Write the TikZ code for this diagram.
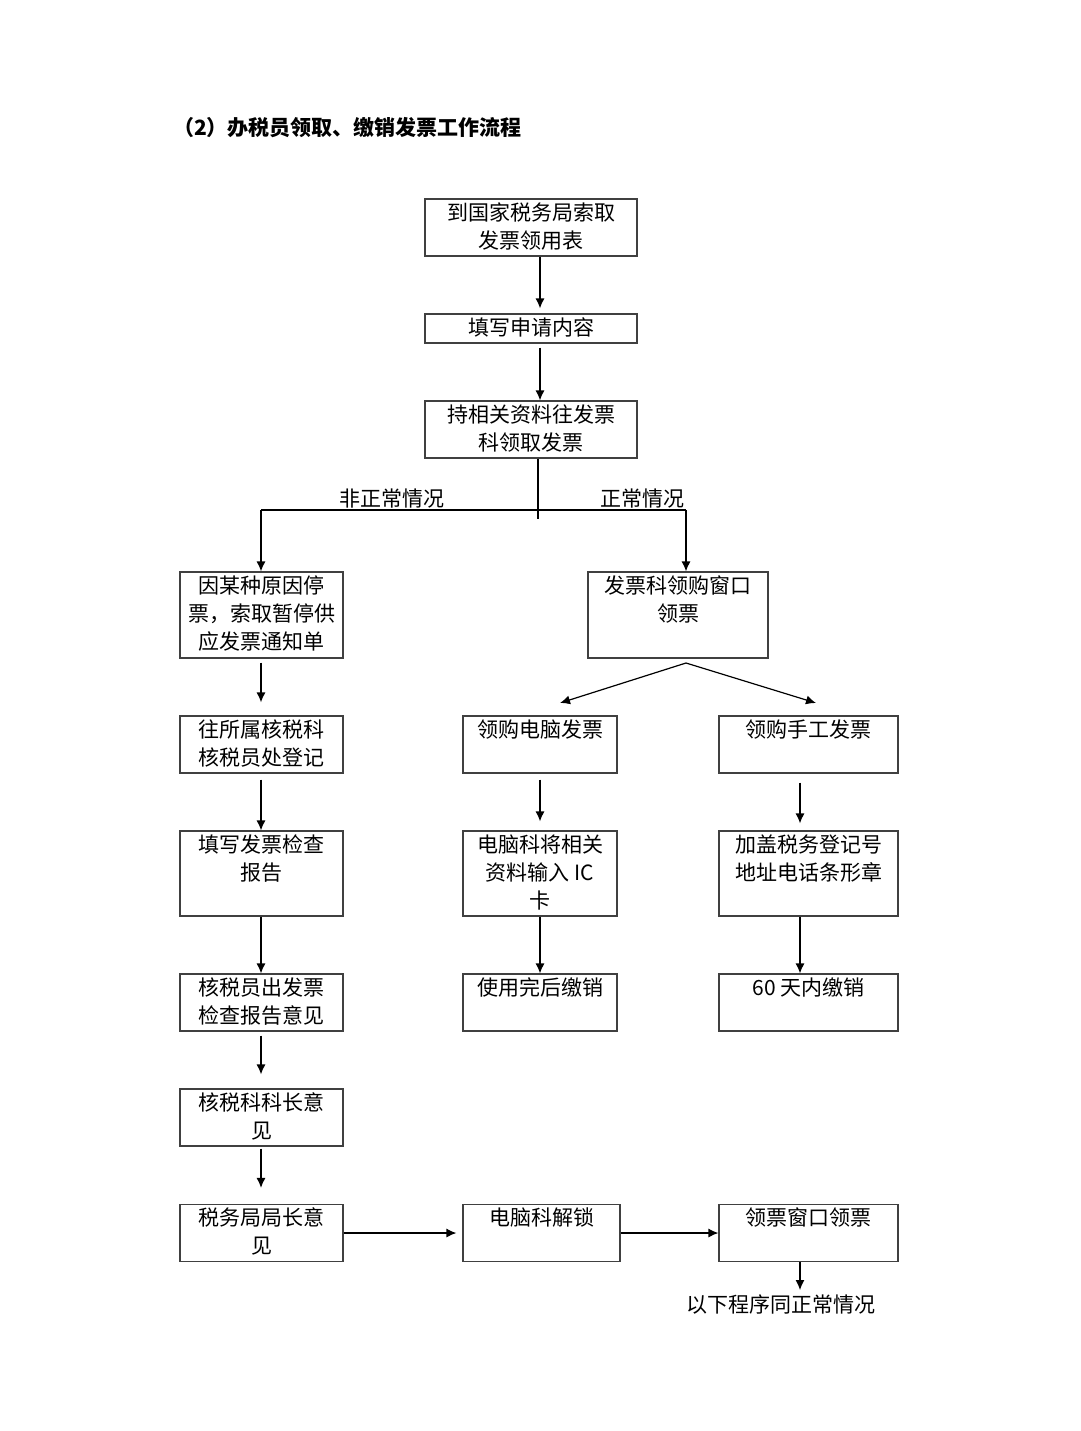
\documentclass[tikz,border=0pt]{standalone}
\usepackage{fontspec}
\setmainfont{Noto Sans CJK SC}
\usetikzlibrary{arrows.meta}

\begin{document}
\begin{tikzpicture}[x=1pt,y=-1pt,box/.style={draw=black!75,line width=1.2pt,inner sep=0pt},txt/.style={anchor=north,align=center,inner sep=0pt,yshift=-4pt,font=\fontsize{21}{28}\selectfont},lbl/.style={inner sep=0pt,font=\fontsize{21}{28}\selectfont},arr/.style={-{Latex[length=10pt,width=9pt]},line width=1.2pt}]
\fill[white] (0,0) rectangle (1080,1431);
\node[anchor=west,inner sep=0pt,font=\fontsize{21}{28}\selectfont\bfseries] (title) at (173,128) {（2）办税员领取、缴销发票工作流程};
% main column
\node[box,minimum width=212pt,minimum height=57pt,label={[txt]north:到国家税务局索取\\发票领用表}] (s1) at (531,227.5) {};
\node[box,minimum width=212pt,minimum height=29pt,label={[txt]north:填写申请内容}] (s2) at (531,328.5) {};
\node[box,minimum width=212pt,minimum height=57pt,label={[txt]north:持相关资料往发票\\科领取发票}] (s3) at (531,429.5) {};
% abnormal case
\node[box,minimum width=163pt,minimum height=86pt,label={[txt]north:因某种原因停\\票，索取暂停供\\应发票通知单}] (L1) at (261.5,615) {};
\node[box,minimum width=163pt,minimum height=57pt,label={[txt]north:往所属核税科\\核税员处登记}] (L2) at (261.5,744.5) {};
\node[box,minimum width=163pt,minimum height=85pt,label={[txt]north:填写发票检查\\报告}] (L3) at (261.5,873.5) {};
\node[box,minimum width=163pt,minimum height=57pt,label={[txt]north:核税员出发票\\检查报告意见}] (L4) at (261.5,1002.5) {};
\node[box,minimum width=163pt,minimum height=57pt,label={[txt]north:核税科科长意\\见}] (L5) at (261.5,1117.5) {};
\node[box,minimum width=163pt,minimum height=57pt,label={[txt]north:税务局局长意\\见}] (L6) at (261.5,1233) {};
% normal case
\node[box,minimum width=180pt,minimum height=86pt,label={[txt]north:发票科领购窗口\\领票}] (R1) at (678,615) {};
\node[box,minimum width=154pt,minimum height=57pt,label={[txt]north:领购电脑发票}] (M1) at (540,744.5) {};
\node[box,minimum width=154pt,minimum height=85pt,label={[txt]north:电脑科将相关\\资料输入 IC\\卡}] (M2) at (540,873.5) {};
\node[box,minimum width=154pt,minimum height=57pt,label={[txt]north:使用完后缴销}] (M3) at (540,1002.5) {};
\node[box,minimum width=179pt,minimum height=57pt,label={[txt]north:领购手工发票}] (H1) at (808.5,744.5) {};
\node[box,minimum width=179pt,minimum height=85pt,label={[txt]north:加盖税务登记号\\地址电话条形章}] (H2) at (808.5,873.5) {};
\node[box,minimum width=179pt,minimum height=57pt,label={[txt]north:60 天内缴销}] (H3) at (808.5,1002.5) {};
% unlock row
\node[box,minimum width=157pt,minimum height=57pt,label={[txt]north:电脑科解锁}] (B2) at (541.5,1233) {};
\node[box,minimum width=179pt,minimum height=57pt,label={[txt]north:领票窗口领票}] (B3) at (808.5,1233) {};
\node[lbl] (nt) at (780.5,1305) {以下程序同正常情况};
\node[lbl] (nn) at (392,499) {非正常情况};
\node[lbl] (zc) at (642.5,499) {正常情况};
\coordinate (ax) at (540,0);
\coordinate (jx) at (538,0);
\coordinate (lx) at (261,0);
\coordinate (hx) at (800,0);
\coordinate (jl) at (261,510);
\coordinate (jr) at (686,510);
\coordinate (apex) at (686,663);
\coordinate (dl) at (560,703);
\coordinate (dr) at (816,703);
\draw[arr,shorten >=5pt] (s1.south -| ax) -- (s2.north -| ax);
\draw[arr,shorten <=4pt] (s2.south -| ax) -- (s3.north -| ax);
\draw[line width=1.2pt] (s3.south -| jx) -- ++(0,60);
\draw[line width=1.2pt] (jl) -- (jr);
\draw[arr] (jl) -- (L1.north -| jl);
\draw[arr] (jr) -- (R1.north -| jr);
\draw[arr,shorten <=4pt,shorten >=13pt] (L1.south -| lx) -- (L2.north -| lx);
\draw[arr,shorten <=6pt] (L2.south -| lx) -- (L3.north -| lx);
\draw[arr] (L3.south -| lx) -- (L4.north -| lx);
\draw[arr,shorten <=4pt,shorten >=14pt] (L4.south -| lx) -- (L5.north -| lx);
\draw[arr,shorten <=2pt,shorten >=16pt] (L5.south -| lx) -- (L6.north -| lx);
\draw[arr] (apex) -- (dl);
\draw[arr] (apex) -- (dr);
\draw[arr,shorten <=6pt,shorten >=9pt] (M1) -- (M2);
\draw[arr] (M2) -- (M3);
\draw[arr,shorten <=9pt,shorten >=7pt] (H1.south -| hx) -- (H2.north -| hx);
\draw[arr] (H2.south -| hx) -- (H3.north -| hx);
\draw[arr,shorten >=6pt] (L6) -- (B2);
\draw[arr] (B2) -- (B3);
\draw[arr,shorten >=5pt] (B3.south -| hx) -- (nt.north -| hx);
\end{tikzpicture}
\end{document}
